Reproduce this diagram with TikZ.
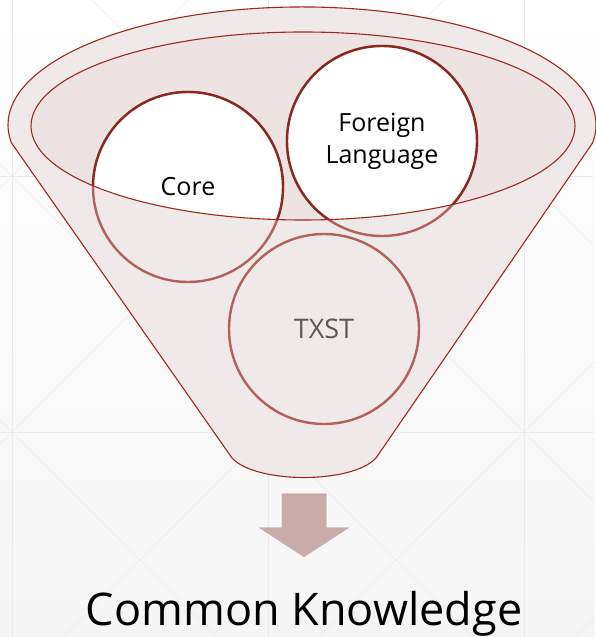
\documentclass[tikz,border=0pt]{standalone}
\usepackage{fontspec}
\setmainfont{Open Sans}
\usepackage[dvipsnames]{xcolor}
\usetikzlibrary{positioning}

\definecolor{funnelline}{HTML}{9E2A1E}
\definecolor{funnelfill}{HTML}{F0E9E9}
\definecolor{innerfill}{HTML}{EDE3E3}
\definecolor{ringdark}{HTML}{8B2820}
\definecolor{ringlight}{HTML}{B3625B}
\definecolor{arrowfill}{HTML}{C9ABA9}
\definecolor{txstgray}{HTML}{595959}
\definecolor{bgbottom}{HTML}{F5F5F5}
\definecolor{gridline}{HTML}{EAEAEA}

\begin{document}
\begin{tikzpicture}[x=1pt,y=1pt,thick,
                    disc/.style={circle,minimum size=190pt,inner sep=0pt,line width=2.4pt},
                    back node/.style={disc,draw=ringlight,fill=funnelfill},
                    main node/.style={disc,draw=ringdark,fill=white},
                    word/.style={font=\fontsize{25}{32}\selectfont,align=center,text=black},
                    rim/.style={draw=funnelline,line width=1.1pt},
                    grid line/.style={draw=gridline,line width=0.6pt}]
                        \useasboundingbox (0,0) rectangle (595,637);
                        \shade[top color=white,bottom color=bgbottom] (0,0) rectangle (595,637);

                        \begin{scope}
                                \clip (0,0) rectangle (595,637);
                                \foreach \x in {12,268,524} \draw[grid line] (\x,0) -- (\x,637);
                                \foreach \y in {205,461} \draw[grid line] (0,\y) -- (595,\y);
                                \foreach \c in {217,473,729,985} \draw[grid line] (\c+100,-100) -- (\c-800,800);
                                \foreach \c in {-449,-193,63,319,575} \draw[grid line] (\c-100,-100) -- (\c+800,800);
                        \end{scope}

                        \draw[rim,fill=funnelfill] (11.5,494) arc[start angle=188.8,end angle=-8.8,x radius=294,y radius=118]
                                -- (376,179) .. controls (352,153) and (256,153) .. (232,179) -- cycle;
                        \fill[innerfill] (303,511) ellipse[x radius=272,y radius=94];

                        \node[back node] (1) at (188,450) {};
                        \node[back node] (2) at (382,496) {};
                        \node[back node] (3) at (324,308) {};

                        \begin{scope}
                                \clip (303,511) ellipse[x radius=272,y radius=94];
                                \node[main node] (1 top) at (1) {};
                                \node[main node] (2 top) at (2) {};
                        \end{scope}
                        \draw[rim] (303,511) ellipse[x radius=272,y radius=94];

                        \node[word] (core) at (1) {Core};
                        \node[word] (lang) at (2) {Foreign\\Language};
                        \node[word,text=txstgray,font=\fontsize{27}{32}\selectfont] (txst) at (3) {TXST};

                        \coordinate (tip) at (304,79);
                        \draw[white,fill=arrowfill,line width=1pt] (281,144) -- (327,144) -- (327,110) -- (351.5,110)
                                -- (tip) -- (256.5,110) -- (281,110) -- cycle;

                        \node[font=\fontsize{45}{54}\selectfont,anchor=base] (result) at (304,11) {Common Knowledge};
\end{tikzpicture}
\end{document}
